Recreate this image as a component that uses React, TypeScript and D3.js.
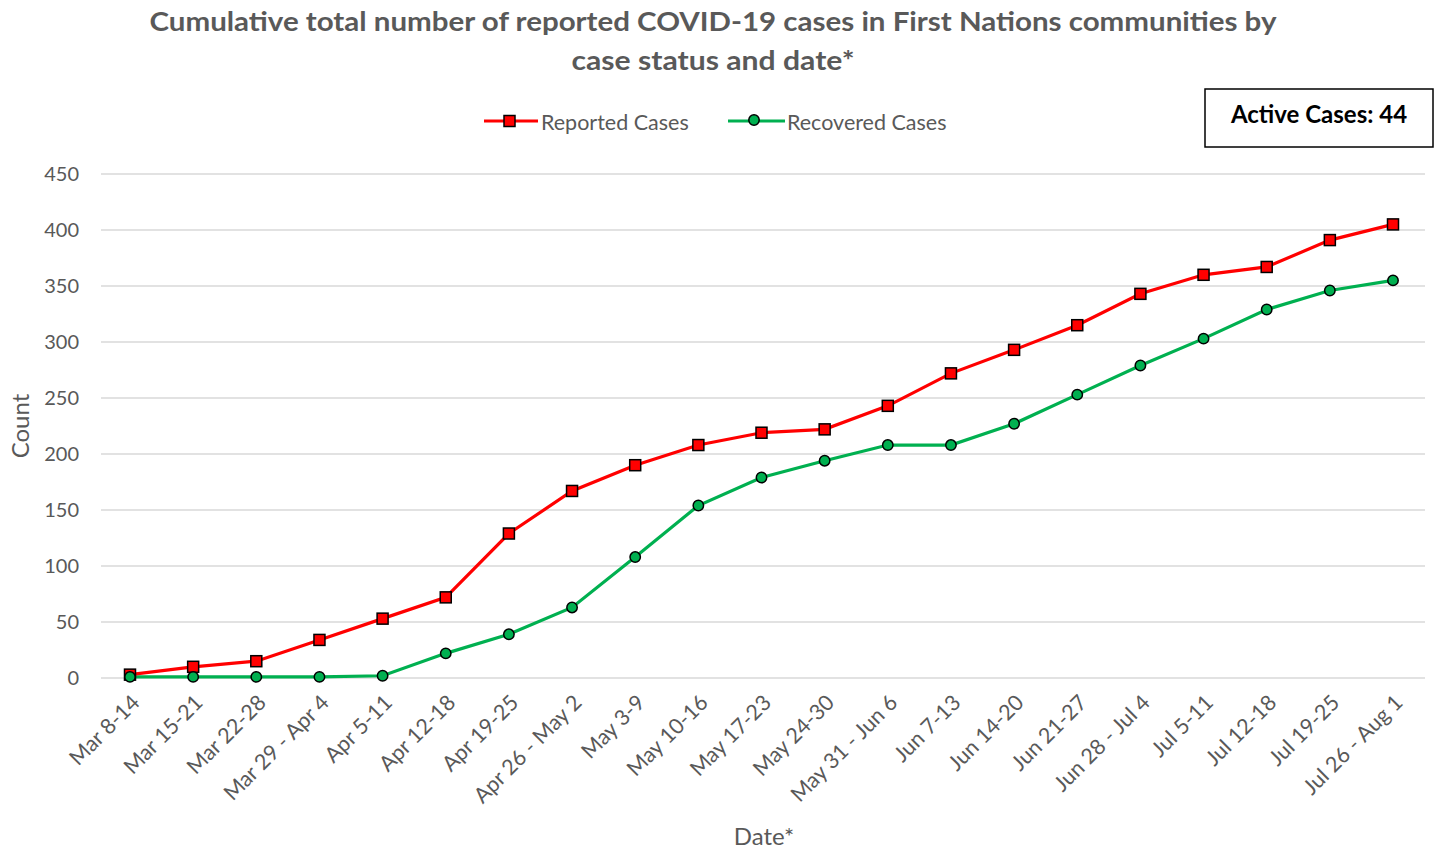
import { useEffect, useRef } from 'react';
import * as d3 from 'd3';

const weeks = [
  'Mar 8-14', 'Mar 15-21', 'Mar 22-28', 'Mar 29 - Apr 4', 'Apr 5-11', 'Apr 12-18', 'Apr 19-25',
  'Apr 26 - May 2', 'May 3-9', 'May 10-16', 'May 17-23', 'May 24-30', 'May 31 - Jun 6', 'Jun 7-13',
  'Jun 14-20', 'Jun 21-27', 'Jun 28 - Jul 4', 'Jul 5-11', 'Jul 12-18', 'Jul 19-25', 'Jul 26 - Aug 1',
];
const reported = [3, 10, 15, 34, 53, 72, 129, 167, 190, 208, 219, 222, 243, 272, 293, 315, 343, 360, 367, 391, 405];
const recovered = [1, 1, 1, 1, 2, 22, 39, 63, 108, 154, 179, 194, 208, 208, 227, 253, 279, 303, 329, 346, 355];
const yTicks = [0, 50, 100, 150, 200, 250, 300, 350, 400, 450];
const activeCases = 44;

const FONT = 'Lato, "Open Sans", sans-serif';
const GREY = '#595959';

export default function App() {
  const svgRef = useRef<SVGSVGElement>(null);

  useEffect(() => {
    const width = 1435;
    const height = 852;
    const svg = d3.select(svgRef.current);
    svg.selectAll('*').remove();
    svg.attr('width', width).attr('height', height);

    const x = d3.scalePoint<string>().domain(weeks).range([130, 1393]);
    const y = d3.scaleLinear().domain([0, 450]).range([678, 174]);

    // Title
    svg.append('text')
      .attr('x', 713).attr('y', 31)
      .attr('text-anchor', 'middle')
      .attr('font-family', FONT).attr('font-weight', 'bold').attr('font-size', 27)
      .attr('textLength', 1127).attr('lengthAdjust', 'spacingAndGlyphs')
      .attr('fill', GREY)
      .text('Cumulative total number of reported COVID-19 cases in First Nations communities by');
    svg.append('text')
      .attr('x', 713).attr('y', 70)
      .attr('text-anchor', 'middle')
      .attr('font-family', FONT).attr('font-weight', 'bold').attr('font-size', 27)
      .attr('textLength', 283).attr('lengthAdjust', 'spacingAndGlyphs')
      .attr('fill', GREY)
      .text('case status and date*');

    // Grid + y labels
    const grid = svg.append('g');
    yTicks.forEach((t) => {
      grid.append('line')
        .attr('x1', 101).attr('x2', 1425)
        .attr('y1', y(t)).attr('y2', y(t))
        .attr('stroke', '#d9d9d9').attr('stroke-width', 1.5);
      grid.append('text')
        .attr('x', 79).attr('y', y(t) + 7)
        .attr('text-anchor', 'end')
        .attr('font-family', FONT).attr('font-size', 20)
        .attr('fill', GREY)
        .text(t);
    });

    // X labels
    weeks.forEach((w) => {
      svg.append('text')
        .attr('transform', `translate(${x(w)! + 11},${704}) rotate(-45)`)
        .attr('text-anchor', 'end')
        .attr('font-family', FONT).attr('font-size', 21.5)
        .attr('fill', GREY)
        .text(w);
    });

    // Axis titles
    svg.append('text')
      .attr('transform', 'translate(29,426) rotate(-90)')
      .attr('text-anchor', 'middle')
      .attr('font-family', FONT).attr('font-size', 24)
      .attr('fill', GREY)
      .text('Count');
    svg.append('text')
      .attr('x', 764).attr('y', 845)
      .attr('text-anchor', 'middle')
      .attr('font-family', FONT).attr('font-size', 24)
      .attr('fill', GREY)
      .text('Date*');

    const line = d3.line<number>()
      .x((_, i) => x(weeks[i])!)
      .y((d) => y(d));

    svg.append('path').datum(recovered)
      .attr('d', line).attr('fill', 'none')
      .attr('stroke', '#00b050').attr('stroke-width', 3.2);
    svg.append('path').datum(reported)
      .attr('d', line).attr('fill', 'none')
      .attr('stroke', '#ff0000').attr('stroke-width', 3.2);

    svg.append('g').selectAll('rect').data(reported).join('rect')
      .attr('x', (_, i) => x(weeks[i])! - 5.5)
      .attr('y', (d) => y(d) - 5.5)
      .attr('width', 11).attr('height', 11)
      .attr('fill', '#ff0000').attr('stroke', '#000').attr('stroke-width', 1.5);
    svg.append('g').selectAll('circle').data(recovered).join('circle')
      .attr('cx', (_, i) => x(weeks[i])!)
      .attr('cy', (d) => y(d))
      .attr('r', 5.2)
      .attr('fill', '#00b050').attr('stroke', '#000').attr('stroke-width', 1.5);

    // Legend
    const lg = svg.append('g');
    lg.append('line').attr('x1', 484).attr('x2', 538).attr('y1', 121).attr('y2', 121)
      .attr('stroke', '#ff0000').attr('stroke-width', 3.2);
    lg.append('rect').attr('x', 504).attr('y', 115.5).attr('width', 11).attr('height', 11)
      .attr('fill', '#ff0000').attr('stroke', '#000').attr('stroke-width', 1.5);
    lg.append('text').attr('x', 541).attr('y', 130)
      .attr('font-family', FONT).attr('font-size', 21.5).attr('fill', GREY)
      .text('Reported Cases');
    lg.append('line').attr('x1', 728).attr('x2', 785).attr('y1', 121).attr('y2', 121)
      .attr('stroke', '#00b050').attr('stroke-width', 3.2);
    lg.append('circle').attr('cx', 754).attr('cy', 120).attr('r', 5.2)
      .attr('fill', '#00b050').attr('stroke', '#000').attr('stroke-width', 1.5);
    lg.append('text').attr('x', 787).attr('y', 130)
      .attr('font-family', FONT).attr('font-size', 21.5).attr('fill', GREY)
      .text('Recovered Cases');

    // Active cases box
    svg.append('rect')
      .attr('x', 1205).attr('y', 89).attr('width', 228).attr('height', 58)
      .attr('fill', '#fff').attr('stroke', '#000').attr('stroke-width', 1.5);
    svg.append('text')
      .attr('x', 1319).attr('y', 123)
      .attr('text-anchor', 'middle')
      .attr('font-family', FONT).attr('font-weight', 'bold').attr('font-size', 24)
      .attr('fill', '#000')
      .text(`Active Cases: ${activeCases}`);
  }, []);

  return (
    <div style={{ position: 'absolute', left: 0, top: 0, background: '#fff' }}>
      <svg ref={svgRef} style={{ display: 'block' }}></svg>
    </div>
  );
}
